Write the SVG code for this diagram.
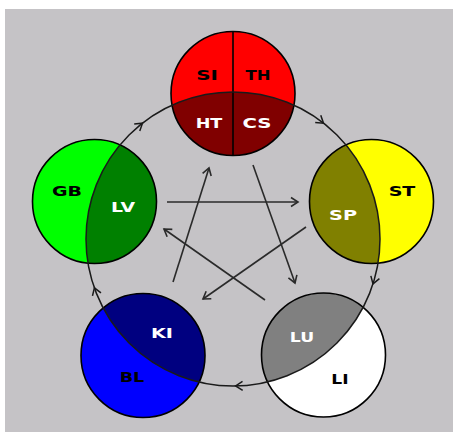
<svg xmlns="http://www.w3.org/2000/svg" xmlns:xlink="http://www.w3.org/1999/xlink" width="453" height="432" viewBox="0 0 453 432">
  <style>
    .outline { fill: none; stroke: #000; stroke-width: 1.6; }
    .lbl { font-family: "DejaVu Sans", Verdana, sans-serif; font-weight: bold; font-size: 14px; text-anchor: middle; }
    .dark { fill: #000; }
    .light { fill: #fff; }
    .ring { fill: none; stroke: #1a1a1a; stroke-width: 1.5; }
    .star { fill: none; stroke: #2a2a2a; stroke-width: 1.6; marker-end: url(#vhead); }
    .ah { fill: none; stroke: #1a1a1a; stroke-width: 1.5; }
  </style>
  <defs>
    <!-- area inside the generating cycle -->
    <clipPath id="ringDisk">
      <circle cx="233" cy="239" r="147"/>
    </clipPath>
    <marker id="vhead" viewBox="-10 -6 12 12" refX="0" refY="0" markerWidth="12" markerHeight="12" markerUnits="userSpaceOnUse" orient="auto">
      <path d="M-7,-4.5 L0,0 L-7,4.5" fill="none" stroke="#2a2a2a" stroke-width="1.6"/>
    </marker>
    <path id="cyc" d="M-7,-4.5 L0,0 L-7,4.5"/>
  </defs>

  <rect x="0" y="0" width="453" height="432" fill="#fff"/>
  <rect x="5" y="9" width="448" height="423" fill="#c5c3c6"/>

  <!-- Fire: SI / TH / HT / CS -->
  <g id="fire">
    <circle cx="233" cy="93.5" r="62" fill="#ff0000"/>
    <circle cx="233" cy="93.5" r="62" fill="#800000" clip-path="url(#ringDisk)"/>
    <line x1="233" y1="31.5" x2="233" y2="155.5" stroke="#000" stroke-width="1.6"/>
    <circle class="outline" cx="233" cy="93.5" r="62"/>
    <text class="lbl dark" x="207" y="80" textLength="21.7" lengthAdjust="spacingAndGlyphs">SI</text>
    <text class="lbl dark" x="258" y="80" textLength="25" lengthAdjust="spacingAndGlyphs">TH</text>
    <text class="lbl light" x="209" y="128" textLength="26.7" lengthAdjust="spacingAndGlyphs">HT</text>
    <text class="lbl light" x="257" y="128" textLength="29" lengthAdjust="spacingAndGlyphs">CS</text>
  </g>

  <!-- Wood: GB / LV -->
  <g id="wood">
    <circle cx="94.5" cy="201.5" r="62" fill="#00ff00"/>
    <circle cx="94.5" cy="201.5" r="62" fill="#008000" clip-path="url(#ringDisk)"/>
    <circle class="outline" cx="94.5" cy="201.5" r="62"/>
    <text class="lbl dark" x="67" y="196" textLength="30" lengthAdjust="spacingAndGlyphs">GB</text>
    <text class="lbl light" x="123" y="212" textLength="24" lengthAdjust="spacingAndGlyphs">LV</text>
  </g>

  <!-- Earth: SP / ST -->
  <g id="earth">
    <circle cx="371.5" cy="201.5" r="62" fill="#ffff00"/>
    <circle cx="371.5" cy="201.5" r="62" fill="#808000" clip-path="url(#ringDisk)"/>
    <circle class="outline" cx="371.5" cy="201.5" r="62"/>
    <text class="lbl dark" x="402" y="196" textLength="26.7" lengthAdjust="spacingAndGlyphs">ST</text>
    <text class="lbl light" x="343" y="220" textLength="28" lengthAdjust="spacingAndGlyphs">SP</text>
  </g>

  <!-- Water: KI / BL -->
  <g id="water">
    <circle cx="143" cy="355.5" r="62" fill="#0000ff"/>
    <circle cx="143" cy="355.5" r="62" fill="#000080" clip-path="url(#ringDisk)"/>
    <circle class="outline" cx="143" cy="355.5" r="62"/>
    <text class="lbl light" x="162" y="338" textLength="22" lengthAdjust="spacingAndGlyphs">KI</text>
    <text class="lbl dark" x="132" y="382" textLength="24.7" lengthAdjust="spacingAndGlyphs">BL</text>
  </g>

  <!-- Metal: LU / LI -->
  <g id="metal">
    <circle cx="323.5" cy="355" r="62" fill="#ffffff"/>
    <circle cx="323.5" cy="355" r="62" fill="#808080" clip-path="url(#ringDisk)"/>
    <circle class="outline" cx="323.5" cy="355" r="62"/>
    <text class="lbl light" x="302" y="342" textLength="24.3" lengthAdjust="spacingAndGlyphs">LU</text>
    <text class="lbl dark" x="340" y="384" textLength="17.3" lengthAdjust="spacingAndGlyphs">LI</text>
  </g>

  <g id="connectors">
    <!-- generating cycle, clockwise -->
    <circle class="ring" cx="233" cy="239" r="147"/>
    <use href="#cyc" class="ah" transform="translate(323.5,123.2) rotate(38)"/>
    <use href="#cyc" class="ah" transform="translate(373,283.9) rotate(107.8)"/>
    <use href="#cyc" class="ah" transform="translate(235.6,386) rotate(179)"/>
    <use href="#cyc" class="ah" transform="translate(94.4,287.8) rotate(250.6)"/>
    <use href="#cyc" class="ah" transform="translate(142.5,123.2) rotate(-38)"/>

    <!-- controlling star -->
    <line class="star" x1="167" y1="202" x2="298" y2="202" stroke-width="2"/>
    <line class="star" x1="173" y1="282" x2="209" y2="168"/>
    <line class="star" x1="253" y1="165" x2="295" y2="283"/>
    <line class="star" x1="306" y1="227" x2="203" y2="299"/>
    <line class="star" x1="265" y1="300" x2="164" y2="229"/>
  </g>
</svg>
